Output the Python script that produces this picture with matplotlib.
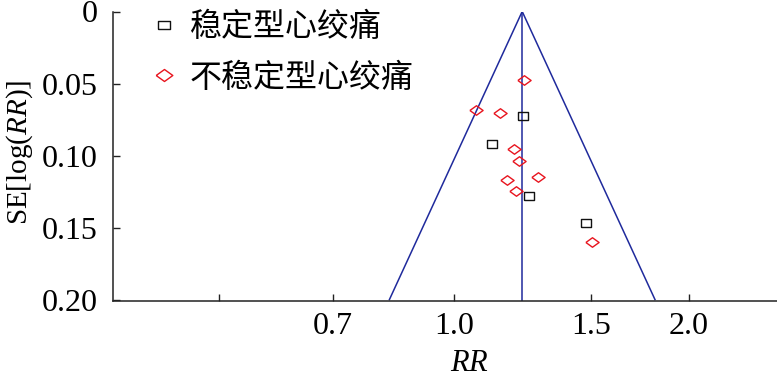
import numpy as np
import matplotlib
matplotlib.use("Agg")
import matplotlib.pyplot as plt
from matplotlib.lines import Line2D

plt.rcParams["font.family"] = ["Liberation Serif", "DejaVu Serif"]
plt.rcParams["mathtext.fontset"] = "custom"
plt.rcParams["mathtext.rm"] = "Liberation Serif"
plt.rcParams["mathtext.it"] = "Liberation Serif:italic"

# Studies: relative risk and standard error of log(RR)
stable_rr = [1.226, 1.119, 1.248, 1.477]
stable_se = [0.0728, 0.0919, 0.1281, 0.1467]
unstable_rr = [1.232, 1.067, 1.146, 1.194, 1.212, 1.284, 1.172, 1.201, 1.502]
unstable_se = [0.0478, 0.0682, 0.0703, 0.0955, 0.1036, 0.1151, 0.1170, 0.1248, 0.1599]
pooled_rr = 1.224
se_max = 0.20

x_ticks = [0.5, 0.7, 1.0, 1.5, 2.0]
x_tick_labels = ["", "0.7", "1.0", "1.5", "2.0"]
y_ticks = [0, 0.05, 0.10, 0.15, 0.20]
y_tick_labels = ["0", "0.05", "0.10", "0.15", "0.20"]
legend_labels = ["稳定型心绞痛", "不稳定型心绞痛"]

W, H = 777, 378
fig = plt.figure(figsize=(W / 100, H / 100), dpi=100)
ax = fig.add_axes([113 / W, (H - 301) / H, (W - 113) / W, (301 - 11.5) / H])

line_color = "#1f2a9c"
# funnel: pooled estimate +/- 1.96 SE on the log scale
se_line = np.array([0.0, se_max])
lo = np.exp(np.log(pooled_rr) - 1.96 * se_line)
hi = np.exp(np.log(pooled_rr) + 1.96 * se_line)
ax.plot(lo, se_line, color=line_color, lw=1.1)
ax.plot(hi, se_line, color=line_color, lw=1.1)
ax.plot([pooled_rr, pooled_rr], [0, 0.201], color=line_color, lw=1.1)

# slightly wide rectangle and diamond markers
rect = [(-1, -0.7), (1, -0.7), (1, 0.7), (-1, 0.7), (-1, -0.7)]
diam = [(-1, 0), (0, 0.72), (1, 0), (0, -0.72), (-1, 0)]

ax.plot(stable_rr, stable_se, linestyle="none", marker=rect, ms=7.5,
        mfc="none", mec="#111111", mew=1.0)
ax.plot(unstable_rr, unstable_se, linestyle="none", marker=diam, ms=9.5,
        mfc="none", mec="#e8141e", mew=1.0)

ax.set_xscale("log")
ax.set_xlim(0.3657, 2.597)
ax.set_ylim(0.201, 0)
ax.set_xticks(x_ticks)
ax.set_xticklabels(x_tick_labels)
ax.xaxis.set_minor_locator(matplotlib.ticker.NullLocator())
ax.set_yticks(y_ticks)
ax.set_yticklabels(y_tick_labels)

for s in ["top", "right"]:
    ax.spines[s].set_visible(False)
for s in ["left", "bottom"]:
    ax.spines[s].set_linewidth(1.1)
    ax.spines[s].set_color("#222222")

ax.tick_params(axis="both", direction="in", length=5, width=1.0,
               labelsize=23, colors="#222222", labelcolor="black")
ax.tick_params(axis="x", pad=8)
ax.tick_params(axis="y", pad=11)

ax.set_xlabel(r"$RR$", fontsize=22)
ax.xaxis.set_label_coords((469 - 113) / (W - 113), -0.165)
ax.set_ylabel(r"SE[log($RR$)]", fontsize=21)
ax.yaxis.set_label_coords(-0.118, 0.515)

handles = [
    Line2D([], [], linestyle="none", marker=rect, ms=9, mfc="none",
           mec="#111111", mew=1.0),
    Line2D([], [], linestyle="none", marker=diam, ms=12, mfc="none",
           mec="#e8141e", mew=1.0),
]
leg = ax.legend(handles, legend_labels, loc="upper left",
                bbox_to_anchor=(148 / W, 1 - 11 / H),
                bbox_transform=fig.transFigure, frameon=False,
                handlelength=1.0, handletextpad=0.3, labelspacing=0.58,
                borderpad=0, borderaxespad=0,
                prop={"family": ["Noto Sans CJK SC", "DejaVu Sans"],
                      "size": 23, "weight": "light"})

fig.savefig("out.png", dpi=100)
